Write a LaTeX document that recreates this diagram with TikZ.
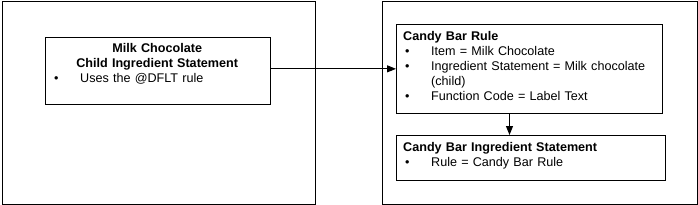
\documentclass[tikz,border=0pt]{standalone}
\usepackage{fontspec}
\setmainfont{Liberation Sans}
\usepackage{tikz}
\usetikzlibrary{arrows.meta,positioning,calc}

\newcommand{\bulletline}[1]{\par\hangindent=28pt\hangafter=1\noindent\makebox[28pt][l]{\hspace{2pt}\textbullet}#1}

\begin{document}
\begin{tikzpicture}[
    x=1pt, y=-1pt,
    frame/.style={draw, line width=1pt, inner sep=0pt, anchor=north west},
    box/.style={draw, line width=1pt, inner sep=0pt, anchor=north west},
    txt/.style={inner sep=0pt, anchor=north west, align=left, font=\fontsize{12.6}{15}\selectfont},
    link/.style={-{Triangle[length=9pt,width=7pt]}, line width=1pt}
]
\useasboundingbox (0,0) rectangle (698,204);

% outer frames
\node[frame, minimum width=313pt, minimum height=203pt] (leftframe) at (2,0.5) {};
\node[frame, minimum width=315pt, minimum height=203pt] (rightframe) at (382,0.5) {};

% boxes
\node[box, minimum width=225.5pt, minimum height=67.3pt] (milkbox) at (44.5,36.7) {};
\node[box, minimum width=266pt, minimum height=88.7pt] (rulebox) at (396,24) {};
\node[box, minimum width=269pt, minimum height=45pt] (stmtbox) at (396,135) {};

% texts
\node[txt, text width=210pt, below right=6pt and 7.5pt of milkbox.north west] (milktext) {%
  {\centering\rule{0pt}{10pt}\textbf{Milk Chocolate}\\\textbf{Child Ingredient Statement}\par}
  \bulletline{Uses the @DFLT rule}};
\node[txt, text width=250pt, below right=6.7pt and 7pt of rulebox.north west] (ruletext) {%
  \rule{0pt}{10pt}\textbf{Candy Bar Rule}
  \bulletline{Item = Milk Chocolate}
  \bulletline{Ingredient Statement = Milk chocolate\newline (child)}
  \bulletline{Function Code = Label Text}};
\node[txt, text width=250pt, below right=6.3pt and 7pt of stmtbox.north west] (stmttext) {%
  \rule{0pt}{10pt}\textbf{Candy Bar Ingredient Statement}
  \bulletline{Rule = Candy Bar Rule}};

% connectors
\coordinate (drop) at ([xshift=-20pt]rulebox.south);
\draw[link] (milkbox.east |- rulebox.west) -- (rulebox.west);
\draw[link] (drop) -- (drop |- stmtbox.north);
\end{tikzpicture}
\end{document}
